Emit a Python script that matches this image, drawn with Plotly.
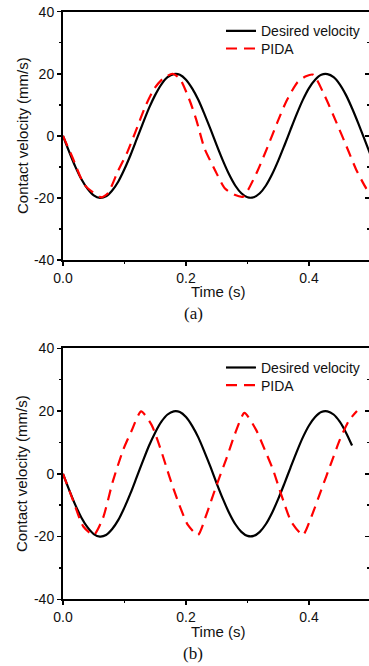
import plotly.graph_objects as go

# ---------------- data ----------------
t_des_a = [0.00, 0.01, 0.02, 0.03, 0.04, 0.05, 0.06, 0.07, 0.08, 0.09,
           0.10, 0.11, 0.12, 0.13, 0.14, 0.15, 0.16, 0.17, 0.18, 0.19,
           0.20, 0.21, 0.22, 0.23, 0.24, 0.25, 0.26, 0.27, 0.28, 0.29,
           0.30, 0.31, 0.32, 0.33, 0.34, 0.35, 0.36, 0.37, 0.38, 0.39,
           0.40, 0.41, 0.42, 0.43, 0.44, 0.45, 0.46, 0.47, 0.48, 0.49, 0.50]
v_des_a = [0.0, -5.1, -9.9, -14.0, -17.1, -19.2, -20.0, -19.5, -17.6, -14.7,
           -10.7, -6.1, -1.0, 4.1, 9.0, 13.2, 16.6, 18.9, 19.9, 19.7,
           18.1, 15.3, 11.6, 7.0, 2.1, -3.1, -8.0, -12.4, -16.0, -18.5,
           -19.8, -19.8, -18.5, -16.0, -12.4, -8.0, -3.1, 2.0, 7.0, 11.6,
           15.4, 18.1, 19.7, 19.9, 18.9, 16.6, 13.2, 8.9, 4.1, -1.0, -6.1]

t_pida_a = [0.000, 0.016, 0.035, 0.062, 0.073, 0.089, 0.104, 0.117, 0.135, 0.149,
            0.163, 0.178, 0.190, 0.206, 0.217, 0.230, 0.247, 0.263, 0.279, 0.293,
            0.301, 0.317, 0.333, 0.348, 0.363, 0.381, 0.395, 0.407, 0.426, 0.445,
            0.461, 0.477, 0.493, 0.500]
v_pida_a = [0.0, -7.2, -15.8, -19.8, -18.5, -11.5, -5.5, 0.9, 10.0, 15.4,
            18.5, 20.0, 18.4, 11.4, 5.0, -4.0, -11.0, -16.9, -19.0, -19.6,
            -17.4, -11.0, -3.4, 4.1, 11.1, 17.2, 19.2, 19.7, 12.7, 4.1,
            -3.4, -11.0, -16.9, -18.5]

t_des_b = [0.00, 0.01, 0.02, 0.03, 0.04, 0.05, 0.06, 0.07, 0.08, 0.09,
           0.10, 0.11, 0.12, 0.13, 0.14, 0.15, 0.16, 0.17, 0.18, 0.19,
           0.20, 0.21, 0.22, 0.23, 0.24, 0.25, 0.26, 0.27, 0.28, 0.29,
           0.30, 0.31, 0.32, 0.33, 0.34, 0.35, 0.36, 0.37, 0.38, 0.39,
           0.40, 0.41, 0.42, 0.43, 0.44, 0.45, 0.46, 0.47]
v_des_b = [0.0, -5.1, -9.9, -14.0, -17.1, -19.2, -20.0, -19.5, -17.6, -14.7,
           -10.7, -6.1, -1.0, 4.1, 9.0, 13.2, 16.6, 18.9, 19.9, 19.7,
           18.1, 15.3, 11.6, 7.0, 2.1, -3.1, -8.0, -12.4, -16.0, -18.5,
           -19.8, -19.8, -18.5, -16.0, -12.4, -8.0, -3.1, 2.0, 7.0, 11.6,
           15.4, 18.1, 19.7, 19.9, 18.9, 16.6, 13.2, 9.0]

t_pida_b = [0.000, 0.016, 0.033, 0.050, 0.065, 0.081, 0.098, 0.111, 0.127, 0.144,
            0.160, 0.173, 0.187, 0.203, 0.2195, 0.233, 0.249, 0.266, 0.279, 0.295,
            0.314, 0.328, 0.3415, 0.355, 0.371, 0.390, 0.404, 0.420, 0.436, 0.450,
            0.465, 0.478]
v_pida_b = [0.0, -8.3, -16.8, -19.5, -14.1, -2.4, 7.7, 13.5, 19.9, 15.6,
            7.1, -0.9, -8.8, -16.3, -19.5, -13.1, -4.0, 5.0, 12.4, 19.4,
            14.0, 7.7, 1.3, -6.7, -15.2, -19.5, -13.6, -5.1, 3.4, 10.8,
            17.0, 20.0]

x_tickvals = [0.0, 0.2, 0.4]
x_ticktext = ["0.0", "0.2", "0.4"]
y_tickvals = [-40, -20, 0, 20, 40]
y_ticktext = ["-40", "-20", "0", "20", "40"]

name_desired = "Desired velocity"
name_pida = "PIDA"
x_title = "Time (s)"
y_title = "Contact velocity (mm/s)"
captions = ["(a)", "(b)"]

# ---------------- layout helpers ----------------
SANS = "Liberation Sans, Arial, sans-serif"
SERIF = "Liberation Serif, Times New Roman, serif"
BLACK = "#000000"
RED = "#ff0000"

W, H = 369, 666
ML = 63            # left margin (px)
PW = W - ML        # plot width


def py(p):        # page y pixel -> paper fraction
    return 1 - p / H


def px(p):        # page x pixel -> paper fraction
    return (p - ML) / PW


fig = go.Figure()

fig.add_trace(go.Scatter(x=t_des_a, y=v_des_a, mode="lines", name=name_desired,
                         line=dict(color=BLACK, width=2.2, shape="spline", smoothing=0.8),
                         xaxis="x", yaxis="y", legend="legend"))
fig.add_trace(go.Scatter(x=t_pida_a, y=v_pida_a, mode="lines", name=name_pida,
                         line=dict(color=RED, width=2.2, dash="11px,7px", shape="spline", smoothing=0.6),
                         xaxis="x", yaxis="y", legend="legend2"))
fig.add_trace(go.Scatter(x=t_des_b, y=v_des_b, mode="lines", name=name_desired,
                         line=dict(color=BLACK, width=2.2, shape="spline", smoothing=0.8),
                         xaxis="x2", yaxis="y2", legend="legend3"))
fig.add_trace(go.Scatter(x=t_pida_b, y=v_pida_b, mode="lines", name=name_pida,
                         line=dict(color=RED, width=2.2, dash="11px,7px", shape="spline", smoothing=0.6),
                         xaxis="x2", yaxis="y2", legend="legend4"))
# carriers for the right-hand tick-only axes
fig.add_trace(go.Scatter(x=[None], y=[None], xaxis="x", yaxis="y3", showlegend=False, hoverinfo="skip"))
fig.add_trace(go.Scatter(x=[None], y=[None], xaxis="x2", yaxis="y4", showlegend=False, hoverinfo="skip"))

XR = [0, PW / 615.0]     # 0.1 s per 61.5 px
YR = [-40, 40]
tickfont = dict(family=SANS, size=14, color="#111111")


def xaxis(anchor):
    return dict(domain=[0, 1], range=XR, anchor=anchor, tickvals=x_tickvals, ticktext=x_ticktext,
                showline=True, linecolor=BLACK, linewidth=2, mirror=True,
                ticks="outside", ticklen=4, tickwidth=1.5, tickcolor=BLACK,
                minor=dict(tickvals=[0.1, 0.3], ticks="outside", ticklen=2, tickwidth=1.5, tickcolor=BLACK),
                showgrid=False, zeroline=False, tickfont=tickfont, fixedrange=True)


def yaxis(anchor, domain):
    return dict(domain=domain, range=YR, anchor=anchor, tickvals=y_tickvals, ticktext=y_ticktext,
                showline=True, linecolor=BLACK, linewidth=2, mirror=False,
                ticks="outside", ticklen=4, tickwidth=1.5, tickcolor=BLACK,
                minor=dict(tickvals=[-30, -10, 10, 30], ticks="outside", ticklen=2, tickwidth=1.5, tickcolor=BLACK),
                showgrid=False, zeroline=False, tickfont=tickfont, fixedrange=True)


def rightaxis(anchor, over):
    return dict(overlaying=over, anchor=anchor, side="right", range=YR, tickvals=y_tickvals,
                showticklabels=False, showline=False, showgrid=False, zeroline=False,
                ticks="inside", ticklen=4, tickwidth=1.5, tickcolor=BLACK,
                minor=dict(tickvals=[-30, -10, 10, 30], ticks="inside", ticklen=2, tickwidth=1.5, tickcolor=BLACK),
                fixedrange=True)


DOM_A = [py(260), py(11.7)]
DOM_B = [py(599.3), py(348.3)]

legend_style = dict(font=dict(family=SANS, size=14, color="#111111"), bgcolor="rgba(0,0,0,0)",
                    borderwidth=0, xanchor="left", yanchor="top", itemwidth=30)

LEG_X = px(221)
LEG_DY = 16.4   # row centre below legend top

fig.update_layout(
    width=W, height=H,
    margin=dict(l=ML, r=0, t=0, b=0, autoexpand=False),
    paper_bgcolor="white", plot_bgcolor="white",
    hovermode=False,
    xaxis=xaxis("y"), yaxis=yaxis("x", DOM_A),
    xaxis2=xaxis("y2"), yaxis2=yaxis("x2", DOM_B),
    yaxis3=rightaxis("x", "y"), yaxis4=rightaxis("x2", "y2"),
    legend=dict(x=LEG_X, y=py(31.7 - LEG_DY), **legend_style),
    legend2=dict(x=LEG_X, y=py(49.3 - LEG_DY), **legend_style),
    legend3=dict(x=LEG_X, y=py(368.3 - LEG_DY), **legend_style),
    legend4=dict(x=LEG_X, y=py(386.0 - LEG_DY), **legend_style),
    showlegend=True,
)

ann = []
rows = [
    # (x-title page y, caption page y, y-title page y, caption)
    (291.7, 313.0, 136.0, captions[0]),
    (631.7, 653.3, 474.0, captions[1]),
]
for ty, cy, yy, cap in rows:
    ann.append(dict(text=x_title, x=px(217.5), y=py(ty), xref="paper", yref="paper",
                    xanchor="center", yanchor="middle", showarrow=False,
                    font=dict(family=SANS, size=15, color="#111111")))
    ann.append(dict(text=cap, x=px(193), y=py(cy), xref="paper", yref="paper",
                    xanchor="center", yanchor="middle", showarrow=False,
                    font=dict(family=SERIF, size=17, color="#111111")))
    ann.append(dict(text=y_title, x=px(22), y=py(yy), xref="paper", yref="paper",
                    xanchor="center", yanchor="middle", showarrow=False, textangle=-90,
                    font=dict(family=SANS, size=15, color="#111111")))
fig.update_layout(annotations=ann)

# remove the browser's default 8px body margin so the figure fills the window exactly
fig.write_html("out.html",
               config={"displayModeBar": False, "staticPlot": True},
               post_script="document.body.style.margin='0';document.body.style.overflow='hidden';")
